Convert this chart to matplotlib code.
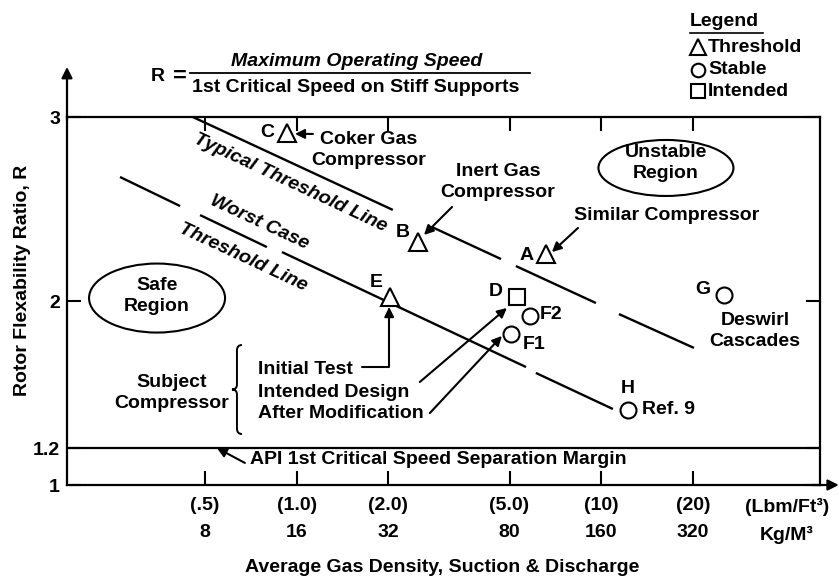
import matplotlib
matplotlib.use("Agg")
import matplotlib.pyplot as plt
from matplotlib.patches import Ellipse, PathPatch
from matplotlib.path import Path
from matplotlib.lines import Line2D
from matplotlib.ticker import NullLocator
from matplotlib.transforms import ScaledTranslation

plt.rcParams['font.family'] = ['Liberation Sans', 'DejaVu Sans']
plt.rcParams['font.weight'] = 'bold'
plt.rcParams['font.size'] = 14

# ---- data ----
point_names = ['A', 'B', 'C', 'D', 'E', 'F1', 'F2', 'G', 'H']
density = [105.3, 40.0, 14.9, 84.6, 32.4, 80.8, 93.3, 404.5, 195.8]      # kg/m3
flex_ratio = [2.255, 2.321, 2.913, 2.022, 2.022, 1.821, 1.918, 2.033, 1.408]
point_kind = ['Threshold', 'Threshold', 'Threshold', 'Intended', 'Threshold',
              'Stable', 'Stable', 'Stable', 'Stable']

# threshold lines, drawn in broken pieces (gaps left for labels)
typical_x = [(7.3, 33.1), (44.5, 75.0), (83.9, 153.7), (182.9, 322.4)]
typical_r = [(3.0, 2.495), (2.402, 2.228), (2.190, 1.989), (1.929, 1.745)]
worst_x = [(4.21, 6.63), (7.71, 12.78), (14.32, 90.6), (97.6, 174.7)]
worst_r = [(2.674, 2.516), (2.467, 2.293), (2.266, 1.641), (1.609, 1.413)]

kg_ticks = [8, 16, 32, 80, 160, 320]
lbm_labels = ['(.5)', '(1.0)', '(2.0)', '(5.0)', '(10)', '(20)']
r_ticks = [1, 1.2, 2, 3]
api_margin = 1.2

markers = {'Threshold': ('^', 13), 'Stable': ('o', 11.5), 'Intended': ('s', 12)}

W, H = 839, 578
fig = plt.figure(figsize=(W / 100, H / 100), dpi=100)
ax = fig.add_axes([67 / W, 1 - 485 / H, 753 / W, 368 / H])


def fpx(x, y):
    # pixel position -> figure fraction
    return x / W, 1 - y / H


ax.set_xscale('log')
ax.set_xlim(2.82, 836)
ax.set_ylim(1, 3)
ax.xaxis.set_minor_locator(NullLocator())
ax.set_xticks(kg_ticks, labels=[f'{a}\n{b}' for a, b in zip(lbm_labels, kg_ticks)])
ax.set_yticks(r_ticks, labels=['1', '1.2', '2', '3'])
ax.tick_params(axis='x', direction='in', length=10, width=1.5, top=True, pad=9)
ax.tick_params(axis='y', direction='in', length=10, width=1.5, right=True, pad=5)
for t in ax.get_xticklabels():
    t.set_linespacing(1.75)
for s in ax.spines.values():
    s.set_linewidth(1.6)

# axis arrows
ax.annotate('', xy=(0, 1.136), xytext=(0, 0.99), xycoords='axes fraction',
            arrowprops=dict(arrowstyle='-|>', color='black', lw=1.6, mutation_scale=16,
                            shrinkA=0, shrinkB=0))
ax.annotate('', xy=(1.025, 0), xytext=(0.99, 0), xycoords='axes fraction',
            arrowprops=dict(arrowstyle='-|>', color='black', lw=1.6, mutation_scale=16,
                            shrinkA=0, shrinkB=0))

ax.text(651, 0.932, '(Lbm/Ft³)\nKg/M³', ha='center', va='top', linespacing=1.75,
        clip_on=False)

# API margin
ax.axhline(api_margin, color='black', lw=1.6)

# threshold lines
for xs, rs in zip(typical_x, typical_r):
    ax.plot(xs, rs, color='black', lw=1.7, solid_capstyle='butt')
for xs, rs in zip(worst_x, worst_r):
    ax.plot(xs, rs, color='black', lw=1.7, solid_capstyle='butt')

# data points
for name, x, r, k in zip(point_names, density, flex_ratio, point_kind):
    m, ms = markers[k]
    ax.plot(x, r, marker=m, ms=ms, mfc='white', mec='black', mew=1.5,
            linestyle='none', clip_on=False, zorder=5)

# point letters
ax.text(12.78, 2.918, 'C', ha='center', va='center')
ax.text(35.7, 2.370, 'B', ha='center', va='center')
ax.text(91.3, 2.245, 'A', ha='center', va='center')
ax.text(29.1, 2.098, 'E', ha='center', va='center')
ax.text(72.2, 2.054, 'D', ha='center', va='center')
ax.text(100.6, 1.924, 'F2', ha='left', va='center')
ax.text(88.5, 1.766, 'F1', ha='left', va='center')
ax.text(345, 2.060, 'G', ha='center', va='center')
ax.text(195.8, 1.527, 'H', ha='center', va='center')
ax.text(217.7, 1.408, 'Ref. 9', ha='left', va='center')

# rotated line labels
ax.text(15.21, 2.641, 'Typical Threshold Line', rotation=-25, rotation_mode='anchor',
        ha='center', va='center', style='italic')
ax.text(12.03, 2.429, 'Worst Case', rotation=-25, rotation_mode='anchor',
        ha='center', va='center', style='italic')
ax.text(10.67, 2.239, 'Threshold Line', rotation=-25, rotation_mode='anchor',
        ha='center', va='center', style='italic')

# descriptive labels
ax.text(27.6, 2.821, 'Coker Gas\nCompressor', ha='center', va='center', linespacing=1.35)
ax.text(73.3, 2.647, 'Inert Gas\nCompressor', ha='center', va='center', linespacing=1.35)
ax.text(262.8, 2.467, 'Similar Compressor', ha='center', va='center')
ax.text(512, 1.837, 'Deswirl\nCascades', ha='center', va='center', linespacing=1.35)
ax.text(6.23, 1.500, 'Subject\nCompressor', ha='center', va='center', linespacing=1.35)
ax.text(11.94, 1.625, 'Initial Test', ha='left', va='center')
ax.text(11.94, 1.505, 'Intended Design', ha='left', va='center')
ax.text(11.94, 1.386, 'After Modification', ha='left', va='center')
ax.text(11.24, 1.136, 'API 1st Critical Speed Separation Margin', ha='left', va='center')

arrow = dict(arrowstyle='-|>', color='black', lw=1.5, mutation_scale=14, shrinkA=0, shrinkB=0)
ax.annotate('', xy=(15.8, 2.908), xytext=(18.1, 2.908), arrowprops=arrow)
ax.annotate('', xy=(41.9, 2.359), xytext=(51.8, 2.511), arrowprops=arrow)
ax.annotate('', xy=(110.2, 2.266), xytext=(134.2, 2.397), arrowprops=arrow)
ax.annotate('', xy=(32.2, 1.967), xytext=(26.2, 1.641),
            arrowprops=dict(arrow, connectionstyle='angle,angleA=0,angleB=90,rad=0'))
ax.annotate('', xy=(78.4, 1.962), xytext=(40.6, 1.560), arrowprops=arrow)
ax.annotate('', xy=(75.5, 1.810), xytext=(43.8, 1.391), arrowprops=arrow)
ax.annotate('', xy=(8.76, 1.201), xytext=(10.82, 1.120), arrowprops=arrow)


def oval(x, y, w, h, text, dy=0.0):
    tr = fig.dpi_scale_trans + ScaledTranslation(x, y, ax.transData)
    ax.add_patch(Ellipse((0, 0), w, h, transform=tr, fill=False, lw=1.5, clip_on=False))
    ax.text(x, y + dy, text, ha='center', va='center', linespacing=1.3)


oval(5.57, 2.016, 1.36, 0.69, 'Safe\nRegion', 0.01)
oval(260.9, 2.723, 1.35, 0.56, 'Unstable\nRegion', 0.027)

# brace
bh, bw = 0.445, 0.05
verts = [(bw, bh), (0, bh), (0, bh - 0.055), (0, 0.05), (0, 0), (-bw, 0),
         (0, 0), (0, -0.05), (0, -bh + 0.055), (0, -bh), (bw, -bh)]
codes = [Path.MOVETO, Path.CURVE3, Path.CURVE3, Path.LINETO, Path.CURVE3, Path.CURVE3,
         Path.CURVE3, Path.CURVE3, Path.LINETO, Path.CURVE3, Path.CURVE3]
btr = fig.dpi_scale_trans + ScaledTranslation(10.19, 1.519, ax.transData)
ax.add_patch(PathPatch(Path(verts, codes), transform=btr, fill=False, lw=1.4, clip_on=False))

# formula
fig.text(*fpx(158, 77), 'R', ha='center', va='center')
fig.text(*fpx(180, 76), '=', ha='center', va='center', fontsize=17)
fig.text(*fpx(357, 62), 'Maximum Operating Speed', ha='center', va='center', style='italic')
fig.text(*fpx(356, 87), '1st Critical Speed on Stiff Supports', ha='center', va='center')
fig.add_artist(Line2D([190 / W, 530 / W], [1 - 73 / H, 1 - 73 / H], color='black', lw=1.3))

# legend
fig.text(*fpx(690, 22), 'Legend', ha='left', va='center')
fig.add_artist(Line2D([690 / W, 763 / W], [1 - 33 / H, 1 - 33 / H], color='black', lw=1.2))
for (kind, yy) in zip(['Threshold', 'Stable', 'Intended'], [47, 70, 91]):
    m, ms = markers[kind]
    fig.add_artist(Line2D([698 / W], [1 - yy / H], marker=m, ms=ms * 0.85, mfc='white',
                          mec='black', mew=1.5, linestyle='none'))
    fig.text(*fpx(708, yy), kind, ha='left', va='center')

# axis titles
fig.text(*fpx(23, 280), 'Rotor Flexability Ratio, R', rotation=90, ha='center', va='center')
fig.text(*fpx(442, 567), 'Average Gas Density, Suction & Discharge', ha='center', va='center')

fig.savefig('out.png', dpi=100)
